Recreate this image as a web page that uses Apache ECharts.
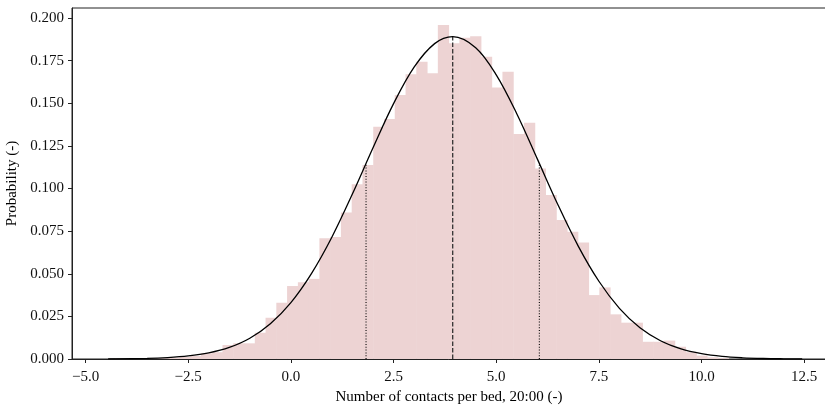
<!DOCTYPE html>
<html><head><meta charset="utf-8">
<script src="https://cdn.jsdelivr.net/npm/echarts@6/dist/echarts.min.js"></script>
<style>html,body{margin:0;padding:0;background:#fff;overflow:hidden}#c{width:825px;height:405px}</style>
</head><body><div id="c"></div>
<script>
// Histogram bin edges (left edges), last element is right edge of last bin
const binEdges = [-4.288,-4.026,-3.764,-3.501,-3.239,-2.977,-2.715,-2.453,-2.190,-1.928,-1.666,-1.404,-1.142,-0.879,-0.617,-0.355,-0.093,0.170,0.432,0.694,0.956,1.218,1.481,1.743,2.005,2.267,2.529,2.792,3.054,3.316,3.578,3.840,4.103,4.365,4.627,4.889,5.151,5.414,5.676,5.938,6.200,6.462,6.725,6.987,7.249,7.511,7.773,8.036,8.298,8.560,8.822,9.084,9.347,9.609,9.871,10.133,10.395,10.658];
const binHeights = [0.0002,0.0002,0.0003,0.0003,0.0005,0.0008,0.0012,0.0018,0.0033,0.0040,0.0082,0.0092,0.0092,0.0154,0.0242,0.0330,0.0428,0.0450,0.0470,0.0708,0.0715,0.0860,0.1025,0.1138,0.1362,0.1408,0.1548,0.1670,0.1744,0.1676,0.1959,0.1852,0.1885,0.1894,0.1773,0.1593,0.1685,0.1320,0.1386,0.1118,0.0962,0.0815,0.0747,0.0684,0.0375,0.0420,0.0262,0.0213,0.0213,0.0101,0.0101,0.0108,0.0072,0.0040,0.0020,0.0010,0.0005];
// Fitted normal curve
const curveX = [-4.45,-3.5,-3.0,-2.5,-2.0,-1.5,-1.0,-0.5,0.0,0.5,1.0,1.5,2.0,2.5,3.0,3.5,3.94,4.5,5.0,5.5,6.0,6.5,7.0,7.5,8.0,8.5,9.0,9.5,10.0,10.5,11.0,11.5,12.0,12.45];
const curveY = [0.00007,0.00038,0.00085,0.0018,0.0036,0.0068,0.0122,0.0207,0.0331,0.0501,0.0716,0.0969,0.1239,0.1498,0.1712,0.1850,0.1891,0.1826,0.1667,0.1439,0.1174,0.0906,0.0661,0.0456,0.0297,0.0183,0.0107,0.0059,0.0031,0.0015,0.0007,0.0003,0.00013,0.00006];
// Mean and mean +/- 1 sd markers
const meanX = 3.94, meanTop = 0.1891;
const sdX = [1.83, 6.05], sdTop = [0.1147, 0.1147];
const xTicks = [-5.0,-2.5,0.0,2.5,5.0,7.5,10.0,12.5];
const yTicks = [0.000,0.025,0.050,0.075,0.100,0.125,0.150,0.175,0.200];

const FONT = '"Liberation Serif","DejaVu Serif",serif';
const fmtNeg = (v, d) => { const s = Number(v).toFixed(d); return s.replace('-', '\u2212'); };

const bars = binHeights.map((h, i) => [binEdges[i], binEdges[i+1], h]);
const curve = curveX.map((x, i) => [x, curveY[i]]);

const chart = echarts.init(document.getElementById('c'), null, {renderer: 'canvas'});
const axisCol = '#222';
chart.setOption({
  animation: false,
  grid: {left: 72, right: -1, top: 8, bottom: 46, show: true, borderColor: axisCol, borderWidth: 1, containLabel: false, outerBoundsMode: 'none'},
  xAxis: {
    type: 'value', min: -5.33, max: 13.03,
    name: 'Number of contacts per bed, 20:00 (-)', nameLocation: 'middle', nameGap: 28,
    nameTextStyle: {fontFamily: FONT, fontSize: 15, color: '#000'},
    axisLine: {show: true, onZero: false, lineStyle: {color: axisCol, width: 1}},
    axisTick: {show: true, length: 4, inside: false, customValues: xTicks, lineStyle: {color: axisCol}},
    axisLabel: {customValues: xTicks, margin: 11, fontFamily: FONT, fontSize: 15, color: '#111', formatter: v => fmtNeg(v, 1)},
    splitLine: {show: false}
  },
  yAxis: {
    type: 'value', min: 0, max: 0.2059,
    name: 'Probability (-)', nameLocation: 'middle', nameGap: 47,
    nameTextStyle: {fontFamily: FONT, fontSize: 15, color: '#000'},
    axisLine: {show: true, onZero: false, lineStyle: {color: axisCol, width: 1}},
    axisTick: {show: true, length: 4, inside: false, customValues: yTicks, lineStyle: {color: axisCol}},
    axisLabel: {customValues: yTicks, margin: 8, fontFamily: FONT, fontSize: 15, color: '#111', formatter: v => Number(v).toFixed(3)},
    splitLine: {show: false}
  },
  series: [
    {
      type: 'custom', data: bars, z: 1,
      renderItem: (params, api) => {
        const p0 = api.coord([api.value(0), 0]);
        const p1 = api.coord([api.value(1), api.value(2)]);
        return {type: 'rect', shape: {x: p0[0], y: p1[1], width: p1[0] - p0[0] + 0.5, height: p0[1] - p1[1]},
          style: {fill: '#edd3d3', stroke: null}};
      },
      encode: {x: [0, 1], y: 2}
    },
    {
      type: 'line', data: curve, smooth: 0.35, showSymbol: false, z: 5,
      lineStyle: {color: '#000', width: 1.3}
    },
    {
      type: 'line', data: [[meanX, 0], [meanX, meanTop]], showSymbol: false, z: 4,
      lineStyle: {color: '#333', width: 1.3, type: [4.5, 2]}
    },
    {
      type: 'line', data: [[sdX[0], 0], [sdX[0], sdTop[0]]], showSymbol: false, z: 4,
      lineStyle: {color: '#000', width: 1.1, type: [1, 1.8]}
    },
    {
      type: 'line', data: [[sdX[1], 0], [sdX[1], sdTop[1]]], showSymbol: false, z: 4,
      lineStyle: {color: '#000', width: 1.1, type: [1, 1.8]}
    }
  ]
});
</script></body></html>
